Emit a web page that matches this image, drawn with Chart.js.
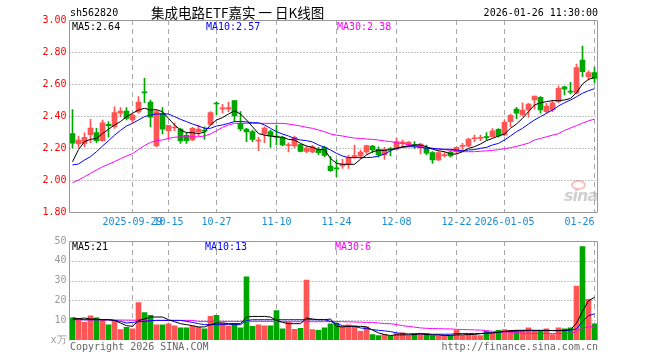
<!DOCTYPE html>
<html>
<head>
<meta charset="utf-8">
<script src="https://cdn.jsdelivr.net/npm/chart.js@4.4.1/dist/chart.umd.min.js"></script>
<style>
  body { margin: 0; background: #fff; width: 660px; height: 360px; overflow: hidden; position: relative;
         font-family: "DejaVu Sans Mono", monospace; font-size: 10px; }
  canvas { position: absolute; left: 0; }
  #priceCanvas { top: 0; }
  #volCanvas { top: 232px; }
  .t { position: absolute; white-space: pre; line-height: 12px; }
  .logo { position: absolute; left: 564px; top: 186px; font: italic bold 16px "DejaVu Sans", sans-serif;
          color: rgba(170,170,170,0.55); letter-spacing: -1px; }
  .eye { position: absolute; left: 571px; top: 180px; width: 15px; height: 10px; border-radius: 50%;
         border: 2px solid rgba(240,120,120,0.45); box-sizing: border-box; }
</style>
</head>
<body>
<canvas id="priceCanvas" width="660" height="232"></canvas>
<canvas id="volCanvas" width="660" height="128"></canvas>

<div class="t" style="left:70px;top:7px;">sh562820</div>
<div class="t" style="left:151px;top:4px;line-height:16px;font-family:'Noto Sans CJK SC';font-size:13.5px;">集成电路ETF嘉实 一 日K线图</div>
<div class="t" style="right:62px;top:7px;">2026-01-26 11:30:00</div>

<div class="t" style="left:72px;top:21px;color:#000;">MA5:2.64</div>
<div class="t" style="left:206px;top:21px;color:#0000ff;">MA10:2.57</div>
<div class="t" style="left:337px;top:21px;color:#ff00ff;">MA30:2.38</div>

<div class="t" style="left:72px;top:241px;color:#000;">MA5:21</div>
<div class="t" style="left:205px;top:241px;color:#0000ff;">MA10:13</div>
<div class="t" style="left:335px;top:241px;color:#ff00ff;">MA30:6</div>

<div class="t" style="left:70px;top:341px;color:#666;">Copyright 2026 SINA.COM</div>
<div class="t" style="right:62px;top:341px;color:#666;">http://finance.sina.com.cn</div>

<div class="eye"></div>
<div class="logo">sina</div>

<script>
// --- trading days shown (2025-09-15 .. 2026-01-26) ---
const dates = [
  '2025-09-15','2025-09-16','2025-09-17','2025-09-18','2025-09-19','2025-09-22','2025-09-23','2025-09-24','2025-09-25','2025-09-26','2025-09-29','2025-09-30',
  '2025-10-09','2025-10-10','2025-10-13','2025-10-14','2025-10-15','2025-10-16','2025-10-17','2025-10-20','2025-10-21','2025-10-22','2025-10-23','2025-10-24','2025-10-27','2025-10-28','2025-10-29','2025-10-30','2025-10-31',
  '2025-11-03','2025-11-04','2025-11-05','2025-11-06','2025-11-07','2025-11-10','2025-11-11','2025-11-12','2025-11-13','2025-11-14','2025-11-17','2025-11-18','2025-11-19','2025-11-20','2025-11-21','2025-11-24','2025-11-25','2025-11-26','2025-11-27','2025-11-28',
  '2025-12-01','2025-12-02','2025-12-03','2025-12-04','2025-12-05','2025-12-08','2025-12-09','2025-12-10','2025-12-11','2025-12-12','2025-12-15','2025-12-16','2025-12-17','2025-12-18','2025-12-19','2025-12-22','2025-12-23','2025-12-24','2025-12-25','2025-12-26','2025-12-29','2025-12-30','2025-12-31',
  '2026-01-05','2026-01-06','2026-01-07','2026-01-08','2026-01-09','2026-01-12','2026-01-13','2026-01-14','2026-01-15','2026-01-16','2026-01-19','2026-01-20','2026-01-21','2026-01-22','2026-01-23','2026-01-26'
];

// --- x axis tick labels ---
const tickDates = ['2025-09-29','2025-10-15','2025-10-27','2025-11-10','2025-11-24','2025-12-08','2025-12-22','2026-01-05','2026-01-26'];
const tickTexts = ['2025-09-29','10-15','10-27','11-10','11-24','12-08','12-22','2026-01-05','01-26'];

// --- OHLC ---
const opens = [2.29,2.225,2.229,2.283,2.296,2.246,2.348,2.333,2.417,2.431,2.375,2.425,2.55,2.4875,2.2125,2.417,2.308,2.325,2.319,2.279,
  2.25,2.302,2.31,2.348,2.48,2.445,2.445,2.496,2.354,2.319,2.302,2.244,2.2875,2.302,2.275,2.265,2.215,2.2125,2.221,2.179,
  2.175,2.192,2.204,2.0875,2.075,2.0875,2.098,2.145,2.15,2.175,2.2125,2.192,2.156,2.195,2.192,2.23,2.217,2.22,2.204,2.2,
  2.171,2.125,2.152,2.175,2.175,2.21,2.2125,2.258,2.26,2.27,2.271,2.317,2.281,2.365,2.444,2.406,2.4375,2.50,2.517,2.427,
  2.4375,2.49,2.583,2.552,2.542,2.75,2.646,2.671];
const highs = [2.44,2.275,2.296,2.379,2.323,2.375,2.365,2.458,2.452,2.452,2.41,2.521,2.635,2.50,2.4375,2.452,2.342,2.358,2.323,2.296,
  2.329,2.344,2.333,2.427,2.4875,2.473,2.4875,2.496,2.427,2.323,2.3125,2.267,2.333,2.3125,2.344,2.275,2.233,2.275,2.225,2.2125,
  2.217,2.204,2.2125,2.146,2.125,2.129,2.156,2.219,2.1875,2.219,2.217,2.208,2.204,2.204,2.26,2.25,2.24,2.24,2.229,2.219,
  2.177,2.177,2.175,2.183,2.208,2.229,2.26,2.281,2.281,2.296,2.321,2.321,2.375,2.4125,2.454,2.483,2.479,2.525,2.521,2.479,
  2.50,2.5875,2.5875,2.61,2.725,2.8375,2.683,2.704];
const lows = [2.20,2.204,2.208,2.233,2.233,2.242,2.267,2.323,2.396,2.375,2.36,2.417,2.483,2.333,2.208,2.2875,2.254,2.308,2.229,2.229,
  2.246,2.275,2.254,2.344,2.406,2.417,2.427,2.365,2.308,2.24,2.24,2.183,2.233,2.204,2.219,2.2125,2.175,2.204,2.175,2.171,
  2.171,2.158,2.146,2.054,2.021,2.073,2.073,2.135,2.135,2.1625,2.171,2.142,2.129,2.15,2.1875,2.204,2.208,2.198,2.1625,2.156,
  2.104,2.121,2.142,2.142,2.1625,2.1875,2.208,2.24,2.246,2.25,2.267,2.267,2.275,2.333,2.383,2.40,2.392,2.442,2.417,2.417,
  2.427,2.483,2.531,2.5375,2.5375,2.646,2.625,2.608];
const closes = [2.23,2.25,2.267,2.325,2.246,2.358,2.340,2.421,2.431,2.385,2.406,2.4875,2.545,2.392,2.427,2.317,2.342,2.331,2.244,2.246,
  2.323,2.319,2.305,2.421,2.475,2.45,2.452,2.40,2.319,2.30,2.254,2.248,2.325,2.275,2.267,2.219,2.221,2.267,2.179,2.20,
  2.208,2.171,2.154,2.058,2.07,2.10,2.14,2.152,2.175,2.215,2.1875,2.158,2.192,2.19,2.24,2.235,2.2375,2.215,2.225,2.167,
  2.125,2.171,2.158,2.15,2.204,2.214,2.256,2.262,2.264,2.265,2.308,2.275,2.36,2.404,2.417,2.4375,2.475,2.525,2.4375,2.4625,
  2.483,2.573,2.567,2.549,2.702,2.677,2.671,2.635];

// --- price moving averages ---
const ma5 = [2.114,2.19,2.24,2.254,2.26,2.29,2.317,2.344,2.365,2.396,2.417,2.4375,2.448,2.4375,2.44,2.427,2.385,2.344,2.3125,2.296,
  2.296,2.29,2.30,2.344,2.375,2.39,2.4125,2.433,2.4125,2.375,2.333,2.29,2.28,2.275,2.27,2.267,2.254,2.25,2.229,2.2125,
  2.204,2.19,2.19,2.135,2.104,2.098,2.098,2.098,2.13,2.156,2.177,2.185,2.185,2.19,2.198,2.208,2.2125,2.219,2.219,2.208,
  2.192,2.183,2.177,2.1625,2.1625,2.177,2.198,2.208,2.225,2.246,2.26,2.275,2.2875,2.323,2.35,2.385,2.427,2.469,2.483,2.49,
  2.496,2.496,2.50,2.51,2.546,2.60,2.629,2.642];
const ma10 = [2.094,2.10,2.125,2.146,2.177,2.2125,2.245,2.28,2.31,2.3375,2.354,2.375,2.396,2.406,2.4125,2.4125,2.4125,2.396,2.379,2.365,
  2.35,2.3375,2.323,2.323,2.3375,2.344,2.354,2.365,2.365,2.363,2.358,2.358,2.344,2.323,2.302,2.2875,2.275,2.26,2.25,2.246,
  2.2375,2.219,2.204,2.1875,2.167,2.15,2.14,2.14,2.14,2.14,2.142,2.15,2.1625,2.183,2.198,2.204,2.208,2.208,2.204,2.198,
  2.198,2.194,2.192,2.192,2.1875,2.183,2.1875,2.19,2.198,2.204,2.219,2.229,2.25,2.275,2.302,2.323,2.35,2.375,2.396,2.417,
  2.4375,2.4625,2.483,2.50,2.52,2.542,2.558,2.571];
const ma30 = [1.983,2.00,2.02,2.042,2.0625,2.083,2.098,2.115,2.133,2.15,2.165,2.19,2.215,2.235,2.246,2.25,2.26,2.267,2.27,2.27,
  2.27,2.27,2.275,2.2875,2.308,2.329,2.344,2.354,2.354,2.354,2.354,2.354,2.354,2.354,2.354,2.354,2.35,2.344,2.3375,2.329,
  2.323,2.3125,2.302,2.2875,2.28,2.275,2.268,2.262,2.26,2.256,2.254,2.25,2.244,2.24,2.233,2.229,2.222,2.215,2.208,2.204,
  2.198,2.194,2.19,2.185,2.18,2.177,2.177,2.177,2.18,2.182,2.185,2.19,2.196,2.202,2.21,2.22,2.23,2.25,2.26,2.27,
  2.28,2.29,2.31,2.325,2.34,2.355,2.37,2.38];

// --- volume (x万) and its moving averages ---
const volumes = [11.2,10.6,8.9,12.2,11.2,10.2,7.7,9.9,5.2,6.4,5.7,18.9,13.9,12.4,7.7,7.7,8.2,7.2,6.2,6.2,
  6.9,6.4,5.7,11.9,12.4,8.6,6.9,8.2,6.2,31.9,6.9,7.7,7.2,7.2,14.9,5.6,8.9,5.4,5.9,30.2,
  5.2,4.9,6.2,8.2,8.6,6.6,7.7,7.2,4.4,6.6,2.7,2.2,2.7,1.9,3.2,3.6,2.2,3.2,3.2,3.2,
  2.2,2.2,2.2,1.9,4.9,2.2,3.2,2.2,2.2,4.4,3.6,4.9,5.2,4.9,4.9,4.9,6.2,4.9,4.9,5.7,
  2.7,6.2,5.6,6.2,27.2,47.2,20.6,8.2];
const volMa5 = [11.1,10.8,11.1,10.6,10.6,10.25,10.25,9.9,8.6,7.25,6.9,9.9,10.6,11.6,11.6,11.6,10.25,9.25,8.25,7.75,
  7.25,6.6,6.6,7.75,8.6,8.6,8.25,8.25,8.25,11.6,11.9,11.9,11.9,11.6,9.9,8.9,8.25,8.25,8.25,11.1,
  10.6,10.25,10.25,10.6,6.9,6.6,6.9,6.9,6.9,6.6,5.0,3.6,2.75,2.25,2.6,2.6,2.6,2.75,3.25,2.75,
  2.6,2.6,2.25,2.25,2.6,2.6,2.75,2.75,3.25,3.25,3.6,3.9,4.4,4.75,4.9,4.9,4.9,4.9,4.9,4.9,
  4.75,4.75,4.9,5.25,8.5,14.5,19.8,21.6];
const volMa10 = [10.25,10.6,10.25,10.25,10.25,10.25,10.25,9.9,9.4,8.6,8.9,9.25,9.4,9.75,9.9,9.9,9.9,9.9,9.9,9.4,
  8.9,8.25,7.75,7.75,7.75,7.75,7.75,7.75,7.75,9.9,10.25,10.25,10.25,10.25,10.25,10.25,10.25,10.25,10.25,10.25,
  10.25,10.25,10.25,9.4,8.25,7.25,6.9,6.9,6.1,5.75,5.25,4.9,4.6,4.25,3.6,3.25,3.1,3.1,3.1,3.1,
  2.9,2.9,2.9,2.9,3.25,3.25,3.25,3.25,3.25,3.6,3.6,3.9,4.25,4.25,4.6,4.6,4.75,4.75,4.75,4.75,
  4.75,4.75,4.75,4.9,5.6,9.4,12.25,13.25];
const volMa30 = [10.25,10.25,10.25,10.2,10.2,10.2,10.15,10.1,10.1,10.05,10.0,10.0,9.95,9.9,9.9,9.9,9.9,9.9,9.9,9.9,
  9.9,9.4,9.4,9.4,9.4,9.4,9.4,9.4,9.4,9.4,9.4,9.4,9.4,9.4,9.25,9.25,9.25,9.25,9.25,9.25,
  9.25,9.25,9.25,9.3,9.3,9.25,9.2,9.1,9.0,8.9,8.9,8.6,8.3,8.2,7.8,7.25,6.9,6.5,6.1,5.9,
  5.8,5.7,5.65,5.6,5.4,5.3,5.2,5.1,5.0,4.7,4.4,4.2,4.1,4.0,3.8,3.4,3.4,3.3,3.25,3.25,
  3.25,3.25,3.25,3.25,4.4,6.1,6.6,6.6];

const UP = '#ff5555', DOWN = '#00a600';
const MONO = '"DejaVu Sans Mono", monospace';
const candleColors = closes.map((c, i) => c >= opens[i] ? UP : DOWN);
const tickIndex = i => tickDates.indexOf(dates[i]);

// --- dotted value lines, dashed date lines (placed via the chart's scales) ---
const gridPlugin = {
  id: 'sinaGrid',
  beforeDatasetsDraw(chart) {
    const { ctx, chartArea: a, scales: { x, y } } = chart;
    ctx.save();
    ctx.lineWidth = 1;
    ctx.strokeStyle = '#8c8c8c';
    ctx.setLineDash([1, 2]);
    y.ticks.forEach(t => {
      const py = Math.round(y.getPixelForValue(t.value)) + 0.5;
      if (py <= a.top + 1 || py >= a.bottom - 1) return;
      ctx.beginPath(); ctx.moveTo(a.left, py); ctx.lineTo(a.right, py); ctx.stroke();
    });
    ctx.strokeStyle = '#a8a8a8';
    ctx.setLineDash([5, 4]);
    tickDates.forEach(d => {
      const px = Math.floor(x.getPixelForValue(dates.indexOf(d))) + 0.5;
      ctx.beginPath(); ctx.moveTo(px, a.top); ctx.lineTo(px, a.bottom); ctx.stroke();
    });
    ctx.restore();
  }
};

// --- frame around the plot area ---
const framePlugin = {
  id: 'frame',
  afterDraw(chart, args, opts) {
    const { ctx, chartArea: a } = chart;
    const l = Math.floor(a.left) + 0.5, r = Math.floor(a.right) + 0.5;
    const t = Math.floor(a.top) + 0.5, b = Math.floor(a.bottom) + 0.5;
    ctx.save();
    ctx.strokeStyle = '#999';
    ctx.lineWidth = 1;
    ctx.beginPath();
    if (opts.bottom) {
      ctx.rect(l, t, r - l, b - t);
    } else {
      ctx.moveTo(l, b); ctx.lineTo(l, t); ctx.lineTo(r, t); ctx.lineTo(r, b);
    }
    ctx.stroke();
    ctx.restore();
  }
};

const lineDs = (data, color) => ({
  type: 'line', data: data, borderColor: color, borderWidth: 1,
  pointRadius: 0, tension: 0, fill: false, order: 0
});

const noGrid = { display: false, drawTicks: false };

// --- price chart (candles + MA) ---
new Chart(document.getElementById('priceCanvas'), {
  type: 'bar',
  data: {
    labels: dates,
    datasets: [
      lineDs(ma5, '#000000'),
      lineDs(ma10, '#0000ff'),
      lineDs(ma30, '#ff00ff'),
      {
        data: lows.map((l, i) => [l, highs[i]]),
        backgroundColor: candleColors,
        barThickness: 1, grouped: false, order: 2
      },
      {
        data: opens.map((o, i) => [o, closes[i]]),
        backgroundColor: candleColors,
        barThickness: 5, grouped: false, minBarLength: 1, order: 1
      }
    ]
  },
  options: {
    responsive: false,
    animation: false,
    layout: { padding: { top: 20, right: 62.5, left: 0, bottom: 0 } },
    plugins: { legend: { display: false }, tooltip: { enabled: false }, frame: { bottom: true } },
    scales: {
      x: {
        offset: true,
        grid: noGrid,
        border: { display: false },
        ticks: {
          autoSkip: false, maxRotation: 0, minRotation: 0, padding: 4,
          color: '#1a8ad4', font: { family: MONO, size: 10 },
          callback: (v, i) => {
            const k = tickIndex(i);
            if (k < 0) return null;
            // last label sits left of its line
            return k === tickTexts.length - 1 ? tickTexts[k] + '     ' : tickTexts[k];
          }
        },
        afterFit: s => { s.height = 20; }
      },
      y: {
        min: 1.8, max: 3.0,
        grid: noGrid,
        border: { display: false },
        ticks: {
          stepSize: 0.2, padding: 3, color: '#ff0000',
          font: { family: MONO, size: 10 },
          callback: v => v.toFixed(2)
        },
        afterFit: s => { s.width = 69.5; }
      }
    }
  },
  plugins: [gridPlugin, framePlugin]
});

// --- volume chart ---
new Chart(document.getElementById('volCanvas'), {
  type: 'bar',
  data: {
    labels: dates,
    datasets: [
      lineDs(volMa5, '#000000'),
      lineDs(volMa10, '#0000ff'),
      lineDs(volMa30, '#ff00ff'),
      { data: volumes, backgroundColor: candleColors, barThickness: 5, order: 1 }
    ]
  },
  options: {
    responsive: false,
    animation: false,
    layout: { padding: { top: 8, right: 62.5, left: 0, bottom: 0 } },
    plugins: { legend: { display: false }, tooltip: { enabled: false }, frame: { bottom: false } },
    scales: {
      x: {
        offset: true,
        grid: noGrid,
        border: { display: false },
        ticks: { display: false, autoSkip: false },
        afterFit: s => { s.height = 20; }
      },
      y: {
        min: 0, max: 50,
        grid: noGrid,
        border: { display: false },
        ticks: {
          stepSize: 10, padding: 3, color: '#999',
          font: { family: MONO, size: 10 },
          callback: v => v === 0 ? 'x万' : v
        },
        afterFit: s => { s.width = 69.5; }
      }
    }
  },
  plugins: [gridPlugin, framePlugin]
});
</script>
</body>
</html>
